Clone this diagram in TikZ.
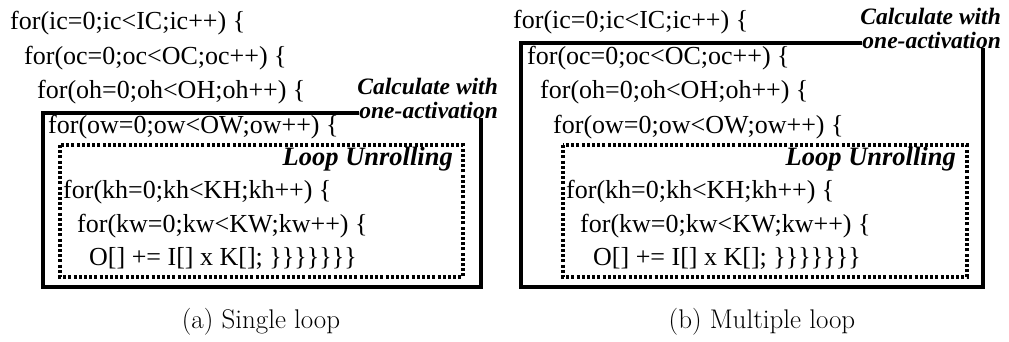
\documentclass[tikz,border=0pt]{standalone}
\usepackage{fontspec}
\newfontfamily\codefont{Liberation Serif}
\begin{document}
\begin{tikzpicture}[x=1pt,y=-1pt,
  code/.style={anchor=west,inner sep=0pt,font=\codefont\fontsize{26}{26}\selectfont},
  lbl/.style={anchor=east,inner sep=0pt,font=\codefont\bfseries\itshape\fontsize{23.5}{24}\selectfont},
  lu/.style={anchor=east,inner sep=0pt,font=\codefont\bfseries\itshape\fontsize{26.5}{27}\selectfont},
  captext/.style={anchor=center,inner sep=0pt,font=\fontsize{27}{27}\selectfont},
  solidbox/.style={line width=3.2pt,line join=miter},
  dotbox/.style={line width=3.2pt,dash pattern=on 3pt off 2.2pt}]
\useasboundingbox (0,0) rectangle (1009,342);
% ---------- (a) ----------
\node[code] (a1) at (10,23) {for(ic=0;ic<IC;ic++) \{};
\node[code] (a2) at (24,58) {for(oc=0;oc<OC;oc++) \{};
\node[code] (a3) at (37,92) {for(oh=0;oh<OH;oh++) \{};
\node[code] (a4) at (48,127) {for(ow=0;ow<OW;ow++) \{};
\node[lu] (aLU) at (453,159) {Loop Unrolling};
\node[code] (a5) at (63,192) {for(kh=0;kh<KH;kh++) \{};
\node[code] (a6) at (77,226) {for(kw=0;kw<KW;kw++) \{};
\node[code] (a7) at (89,258) {O[] += I[] x K[]; \}\}\}\}\}\}\}};
\node[lbl] (aC1) at (498,86) {Calculate with};
\node[lbl] (aC2) at (498,110) {one-activation};
\coordinate (aTL) at (43,113);
\coordinate (aBR) at (481,287);
\draw[solidbox] (aC2.west |- aTL) -- (aTL) -- (aTL |- aBR) -- (aBR) -- (aBR |- aC2.south);
\coordinate (aDTL) at (60,145);
\coordinate (aDBR) at (463,277);
\draw[dotbox] (aDTL) rectangle (aDBR);
\node[captext] (capA) at (261,322) {(a) Single loop};
% ---------- (b) ----------
\node[code] (b1) at (513,22) {for(ic=0;ic<IC;ic++) \{};
\node[code] (b2) at (527,58) {for(oc=0;oc<OC;oc++) \{};
\node[code] (b3) at (540,92) {for(oh=0;oh<OH;oh++) \{};
\node[code] (b4) at (553,127) {for(ow=0;ow<OW;ow++) \{};
\node[lu] (bLU) at (956,159) {Loop Unrolling};
\node[code] (b5) at (566,192) {for(kh=0;kh<KH;kh++) \{};
\node[code] (b6) at (580,226) {for(kw=0;kw<KW;kw++) \{};
\node[code] (b7) at (593,258) {O[] += I[] x K[]; \}\}\}\}\}\}\}};
\node[lbl] (bC1) at (1001,16) {Calculate with};
\node[lbl] (bC2) at (1001,40) {one-activation};
\coordinate (bTL) at (521,43);
\coordinate (bBR) at (983,287);
\draw[solidbox] (bC2.west |- bTL) -- (bTL) -- (bTL |- bBR) -- (bBR) -- (bBR |- bC2.south);
\coordinate (bDTL) at (563,145);
\coordinate (bDBR) at (967,277);
\draw[dotbox] (bDTL) rectangle (bDBR);
\node[captext] (capB) at (762,322) {(b) Multiple loop};
\end{tikzpicture}
\end{document}
